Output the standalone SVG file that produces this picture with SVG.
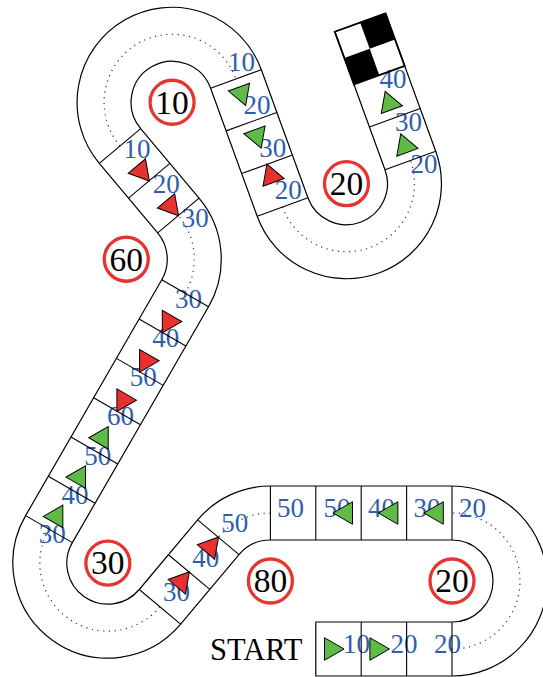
<svg xmlns="http://www.w3.org/2000/svg" xmlns:xlink="http://www.w3.org/1999/xlink" width="543" height="677" viewBox="0 0 543 677">
<style>
.edge{fill:#fff;stroke:#000;stroke-width:1.2;stroke-linejoin:round}
.div{stroke:#000;stroke-width:1.1;fill:none}
.dot{fill:none;stroke:#333;stroke-width:1.2;stroke-dasharray:1.2 4.5}
.lab{font-family:"Liberation Serif","Times New Roman",serif;font-size:27px;fill:#2f5eab;text-anchor:middle}
.sign circle{fill:#fff;stroke:#e8342f;stroke-width:3.3}
.sign text{font-family:"Liberation Serif","Times New Roman",serif;font-size:33.5px;fill:#000;text-anchor:middle}
.g{fill:#60ba46;stroke:#000;stroke-width:1}
.r{fill:#e8312e;stroke:#000;stroke-width:1}
.blk{fill:#000}
</style>
<defs>
<polygon id="tri" points="13,0 -6.5,11.258 -6.5,-11.258"/>
</defs>
<rect width="543" height="677" fill="#fff"/>
<g id="track">
<path class="edge" d="M315.8,622 L452,622 A41,41 0 0 0 452,540 L270.4,540 A41,41 0 0 0 238.99,554.65 L180.62,624.2 A95,95 0 0 1 25.58,515.64 L161.78,279.73 A41,41 0 0 0 157.68,232.88 L99.31,163.32 A95,95 0 1 1 261.35,69.76 L307.93,197.75 A41,41 0 0 0 384.99,169.7 L334.78,31.76 L385.52,13.29 L435.73,151.23 A95,95 0 0 1 257.19,216.22 L210.61,88.23 A41,41 0 1 0 140.67,128.61 L199.04,198.17 A95,95 0 0 1 208.54,306.73 L72.34,542.64 A41,41 0 0 0 139.26,589.5 L197.63,519.94 A95,95 0 0 1 270.4,486 L452,486 A95,95 0 0 1 452,676 L315.8,676 Z"/>
</g>
<g id="centerlines">
<path class="dot" d="M452,649 A68,68 0 0 0 452,513"/>
<path class="dot" d="M270.4,513 A68,68 0 0 0 218.31,537.29"/>
<path class="dot" d="M159.94,606.85 A68,68 0 0 1 48.96,529.14"/>
<path class="dot" d="M185.16,293.23 A68,68 0 0 0 178.36,215.52"/>
<path class="dot" d="M119.99,145.96 A68,68 0 1 1 235.98,78.99"/>
<path class="dot" d="M282.56,206.98 A68,68 0 0 0 410.36,160.46"/>
</g>
<g id="labels" class="lab">
<text x="356.5" y="652.8">10</text>
<text x="404" y="652.8">20</text>
<text x="447.5" y="652.8">20</text>
<text x="472.5" y="517.1">20</text>
<text x="427" y="517.1">30</text>
<text x="381.5" y="517.1">40</text>
<text x="337" y="517.1">50</text>
<text x="290.5" y="517.1">50</text>
<text x="234.81" y="531.79">50</text>
<text x="205.63" y="566.57">40</text>
<text x="176.44" y="601.35">30</text>
<text x="52.36" y="543.44">30</text>
<text x="75.06" y="504.12">40</text>
<text x="97.76" y="464.8">50</text>
<text x="120.46" y="425.49">60</text>
<text x="143.16" y="386.17">50</text>
<text x="165.86" y="346.85">40</text>
<text x="188.56" y="307.53">30</text>
<text x="195.36" y="227.42">30</text>
<text x="166.18" y="192.64">20</text>
<text x="136.99" y="157.86">10</text>
<text x="241.58" y="71.19">10</text>
<text x="257.11" y="113.85">20</text>
<text x="272.64" y="156.51">30</text>
<text x="288.16" y="199.18">20</text>
<text x="423.96" y="173.46">20</text>
<text x="408.43" y="130.8">30</text>
<text x="392.9" y="88.14">40</text>
</g>
<g id="dividers" class="div">
<line x1="361.2" y1="622" x2="361.2" y2="676"/>
<line x1="406.6" y1="622" x2="406.6" y2="676"/>
<line x1="452" y1="622" x2="452" y2="676"/>
<line x1="452" y1="486" x2="452" y2="540"/>
<line x1="406.6" y1="486" x2="406.6" y2="540"/>
<line x1="361.2" y1="486" x2="361.2" y2="540"/>
<line x1="315.8" y1="486" x2="315.8" y2="540"/>
<line x1="270.4" y1="486" x2="270.4" y2="540"/>
<line x1="238.99" y1="554.65" x2="197.63" y2="519.94"/>
<line x1="209.81" y1="589.42" x2="168.45" y2="554.72"/>
<line x1="180.62" y1="624.2" x2="139.26" y2="589.5"/>
<line x1="25.58" y1="515.64" x2="72.34" y2="542.64"/>
<line x1="48.28" y1="476.32" x2="95.04" y2="503.32"/>
<line x1="70.98" y1="437" x2="117.74" y2="464"/>
<line x1="93.68" y1="397.69" x2="140.44" y2="424.69"/>
<line x1="116.38" y1="358.37" x2="163.14" y2="385.37"/>
<line x1="139.08" y1="319.05" x2="185.84" y2="346.05"/>
<line x1="161.78" y1="279.73" x2="208.54" y2="306.73"/>
<line x1="157.68" y1="232.88" x2="199.04" y2="198.17"/>
<line x1="128.5" y1="198.1" x2="169.86" y2="163.39"/>
<line x1="99.31" y1="163.32" x2="140.67" y2="128.61"/>
<line x1="261.35" y1="69.76" x2="210.61" y2="88.23"/>
<line x1="276.88" y1="112.42" x2="226.14" y2="130.89"/>
<line x1="292.41" y1="155.08" x2="241.67" y2="173.55"/>
<line x1="307.93" y1="197.75" x2="257.19" y2="216.22"/>
<line x1="384.99" y1="169.7" x2="435.73" y2="151.23"/>
<line x1="369.46" y1="127.04" x2="420.2" y2="108.57"/>
</g>
<g id="finish">
<polygon class="blk" points="353.93,84.38 379.3,75.14 369.72,48.83 344.35,58.07"/>
<polygon class="blk" points="369.72,48.83 395.09,39.6 385.52,13.29 360.15,22.52"/>
<polygon points="353.93,84.38 404.67,65.91 385.52,13.29 334.78,31.76" fill="none" stroke="#000" stroke-width="1.8" stroke-linejoin="miter"/>
</g>
<g id="arrows">
<use xlink:href="#tri" class="g" transform="translate(331,649)"/>
<use xlink:href="#tri" class="g" transform="translate(376.4,649)"/>
<use xlink:href="#tri" class="g" transform="translate(436.8,513) rotate(180)"/>
<use xlink:href="#tri" class="g" transform="translate(391.4,513) rotate(180)"/>
<use xlink:href="#tri" class="g" transform="translate(346,513) rotate(180)"/>
<use xlink:href="#tri" class="r" transform="translate(210.15,547.02) rotate(310)"/>
<use xlink:href="#tri" class="r" transform="translate(180.97,581.8) rotate(310)"/>
<use xlink:href="#tri" class="g" transform="translate(56.31,516.41) rotate(300)"/>
<use xlink:href="#tri" class="g" transform="translate(79.01,477.09) rotate(300)"/>
<use xlink:href="#tri" class="g" transform="translate(101.71,437.77) rotate(300)"/>
<use xlink:href="#tri" class="r" transform="translate(123.41,400.19) rotate(120)"/>
<use xlink:href="#tri" class="r" transform="translate(146.11,360.87) rotate(120)"/>
<use xlink:href="#tri" class="r" transform="translate(168.81,321.55) rotate(120)"/>
<use xlink:href="#tri" class="r" transform="translate(170.2,205.79) rotate(50)"/>
<use xlink:href="#tri" class="r" transform="translate(141.02,171.01) rotate(50)"/>
<use xlink:href="#tri" class="g" transform="translate(241.18,93.27) rotate(70)"/>
<use xlink:href="#tri" class="g" transform="translate(256.71,135.93) rotate(70)"/>
<use xlink:href="#tri" class="r" transform="translate(271.38,176.24) rotate(250)"/>
<use xlink:href="#tri" class="g" transform="translate(405.17,146.18) rotate(250)"/>
<use xlink:href="#tri" class="g" transform="translate(389.64,103.52) rotate(250)"/>
</g>
<g id="sign-20a" class="sign"><circle cx="452" cy="581" r="22"/><text x="452" y="592.3">20</text></g>
<g id="sign-80" class="sign"><circle cx="270.4" cy="581" r="22"/><text x="270.4" y="592.3">80</text></g>
<g id="sign-30" class="sign"><circle cx="107.85" cy="563.14" r="22"/><text x="107.85" y="574.44">30</text></g>
<g id="sign-60" class="sign"><circle cx="126.27" cy="259.23" r="22"/><text x="126.27" y="270.53">60</text></g>
<g id="sign-10" class="sign"><circle cx="172.08" cy="102.25" r="22"/><text x="172.08" y="113.55">10</text></g>
<g id="sign-20b" class="sign"><circle cx="346.46" cy="183.72" r="22"/><text x="346.46" y="195.02">20</text></g>
<g id="start"><text x="210" y="660" font-family="Liberation Serif, Times New Roman, serif" font-size="30.5" fill="#000">START</text></g>
</svg>
